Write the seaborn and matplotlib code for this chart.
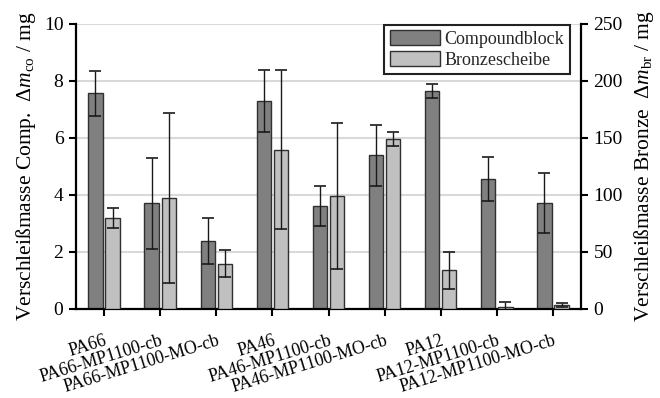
import numpy as np
import pandas as pd
import matplotlib
matplotlib.use("Agg")
import matplotlib.pyplot as plt
import seaborn as sns
from matplotlib.patches import Patch

# Verschleißmassen je Probe: Compoundblock (linke Achse) und Bronzescheibe (rechte Achse)
probes = ["PA66", "PA66-MP1100-cb", "PA66-MP1100-MO-cb",
          "PA46", "PA46-MP1100-cb", "PA46-MP1100-MO-cb",
          "PA12", "PA12-MP1100-cb", "PA12-MP1100-MO-cb"]
compound_mg = [7.56, 3.70, 2.38, 7.29, 3.61, 5.38, 7.64, 4.55, 3.71]
compound_sd = [0.78, 1.60, 0.81, 1.08, 0.70, 1.07, 0.24, 0.77, 1.04]
bronze_mg = [79.5, 97.3, 39.3, 139.5, 98.8, 148.6, 33.4, 1.3, 3.3]
bronze_sd = [9.0, 74.7, 12.0, 70.0, 64.0, 6.2, 16.3, 4.1, 1.6]
series = ["Compoundblock", "Bronzescheibe"]
colors = {"Compoundblock": "#808080", "Bronzescheibe": "#c0c0c0"}
left_ticks = [0, 2, 4, 6, 8, 10]
right_ticks = [0, 50, 100, 150, 200, 250]

sns.set_theme(style="ticks")
plt.rcParams["font.family"] = ["Liberation Serif", "DejaVu Serif"]
plt.rcParams["mathtext.fontset"] = "custom"
plt.rcParams["mathtext.rm"] = "Liberation Serif"
plt.rcParams["mathtext.it"] = "Liberation Serif:italic"

W, H = 660, 398
fig = plt.figure(figsize=(W / 100, H / 100), dpi=100)
x0, x1, y_top, y_bot = 76, 581, 24, 308.5
ax1 = fig.add_axes([x0 / W, 1 - y_bot / H, (x1 - x0) / W, (y_bot - y_top) / H])
ax2 = ax1.twinx()

df_c = pd.DataFrame({"Probe": probes, "Serie": "Compoundblock", "Wert": compound_mg})
df_b = pd.DataFrame({"Probe": probes, "Serie": "Bronzescheibe", "Wert": bronze_mg})

bar_kw = dict(x="Probe", y="Wert", hue="Serie", hue_order=series, order=probes,
              palette=colors, width=0.61, gap=0.164, dodge=True, errorbar=None,
              legend=False, edgecolor="#303030", linewidth=1.0, saturation=1)
sns.barplot(data=df_c, ax=ax1, **bar_kw)
sns.barplot(data=df_b, ax=ax2, **bar_kw)


def add_errorbars(ax, sd):
    bars = sorted([p for p in ax.patches if np.isfinite(p.get_height())],
                  key=lambda p: p.get_x())
    xs = [p.get_x() + p.get_width() / 2 for p in bars]
    hs = [p.get_height() for p in bars]
    ax.errorbar(xs, hs, yerr=sd, fmt="none", ecolor="#1a1a1a", elinewidth=1.0,
                capsize=4, capthick=1.2, zorder=3)


add_errorbars(ax1, compound_sd)
add_errorbars(ax2, bronze_sd)

ax1.set_xlim(-0.5, len(probes) - 0.5)
ax1.set_ylim(0, 10)
ax2.set_ylim(0, 250)
ax1.set_yticks(left_ticks)
ax2.set_yticks(right_ticks)

ax1.yaxis.grid(True, color="#d9d9d9", linewidth=1.5)
ax1.xaxis.grid(False)
ax2.grid(False)
ax1.set_axisbelow(True)

for side in ("top", "right"):
    ax1.spines[side].set_visible(False)
for side in ("top", "left", "bottom"):
    ax2.spines[side].set_visible(False)
for sp in (ax1.spines["left"], ax1.spines["bottom"], ax2.spines["right"]):
    sp.set_linewidth(1.6)
    sp.set_color("black")

ax1.tick_params(axis="y", direction="out", length=5, width=1.5, labelsize=14, pad=4, colors="black")
ax1.tick_params(axis="x", direction="out", length=5, width=1.5, labelsize=12.8, pad=12, colors="black")
ax2.tick_params(axis="y", direction="out", length=5, width=1.5, labelsize=14, pad=4, colors="black")

ax1.set_xticks(range(len(probes)))
ax1.set_xticklabels(probes, rotation=17, ha="right", va="top", rotation_mode="anchor")
ax1.set_xlabel("")

ax1.set_ylabel("Verschleißmasse Comp.  Δ$m_\\mathrm{co}$ / mg", fontsize=15.5, color="black")
ax2.set_ylabel("Verschleißmasse Bronze  Δ$m_\\mathrm{br}$ / mg", fontsize=15.5, color="black",
               rotation=90)
ax1.yaxis.set_label_coords(-0.076, 0.5)
ax2.yaxis.set_label_coords(1.10, 0.5)

handles = [Patch(facecolor=colors[s], edgecolor="#303030", linewidth=1.0) for s in series]
leg = ax2.legend(handles, series, loc="upper right", bbox_to_anchor=(0.978, 0.997),
                 fontsize=13, frameon=True, fancybox=False, edgecolor="#222222",
                 framealpha=1, borderaxespad=0, handlelength=2.8, handleheight=0.85,
                 handletextpad=0.25, labelspacing=0.2, borderpad=0.3)
leg.get_frame().set_linewidth(1.5)

fig.savefig("out.png", dpi=100)
